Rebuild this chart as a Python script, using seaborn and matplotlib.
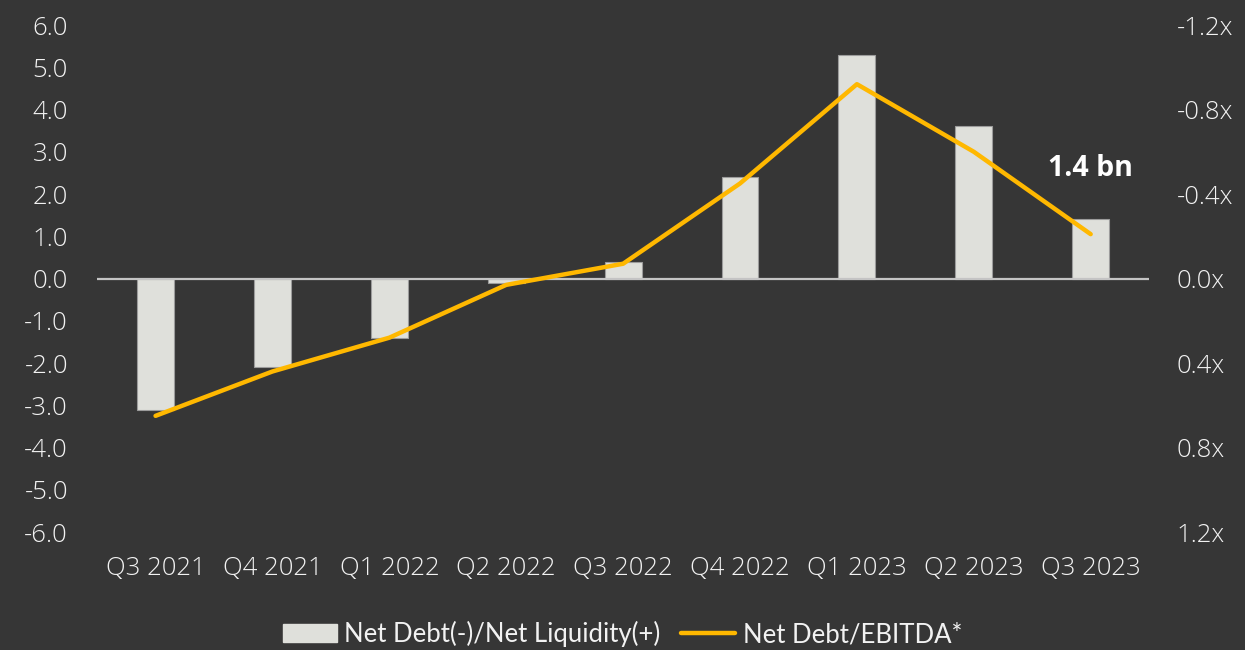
import numpy as np
import pandas as pd
import matplotlib
matplotlib.use("Agg")
import matplotlib.pyplot as plt
from matplotlib.patches import Patch
from matplotlib.lines import Line2D
import seaborn as sns

# Quarterly figures
quarters = ["Q3 2021", "Q4 2021", "Q1 2022", "Q2 2022", "Q3 2022",
            "Q4 2022", "Q1 2023", "Q2 2023", "Q3 2023"]
net_liquidity_bn = [-3.1, -2.1, -1.4, -0.1, 0.4, 2.4, 5.3, 3.6, 1.4]
net_debt_ebitda = [0.65, 0.44, 0.28, 0.03, -0.07, -0.45, -0.92, -0.60, -0.21]

left_ticks = [-6, -5, -4, -3, -2, -1, 0, 1, 2, 3, 4, 5, 6]
right_ticks = [-1.2, -0.8, -0.4, 0.0, 0.4, 0.8, 1.2]

BG = "#363636"
BAR = "#DFE0DB"
LINE = "#FFB800"
TXT = "#F2F2F2"

sns.set_theme(style="white")
plt.rcParams["font.family"] = ["Open Sans", "DejaVu Sans"]
plt.rcParams["font.weight"] = 300

df = pd.DataFrame({"quarter": quarters,
                   "liquidity": net_liquidity_bn,
                   "ratio": net_debt_ebitda})
df["pos"] = np.arange(len(df))

fig = plt.figure(figsize=(12.45, 6.5), dpi=100, facecolor=BG)
ax = fig.add_axes([0.078, 0.1815, 0.845, 0.78])
ax.set_facecolor(BG)

sns.barplot(data=df, x="quarter", y="liquidity", ax=ax, color=BAR,
            width=0.316, saturation=1, edgecolor="#9C9C9C", linewidth=0.8,
            zorder=2)
ax.axhline(0, color="#C4C4C4", linewidth=1.6, zorder=3)

ax.set_xlim(-0.5, 8.5)
ax.set_ylim(-6, 6)
ax.set_yticks(left_ticks)
ax.set_yticklabels([f"{v:.1f}" for v in left_ticks])
ax.set_xlabel("")
ax.set_ylabel("")
ax.tick_params(axis="both", length=0, colors=TXT, labelsize=18.5)
ax.tick_params(axis="y", pad=21)
ax.tick_params(axis="x", pad=17)
for s in ax.spines.values():
    s.set_visible(False)

ax2 = ax.twinx()
sns.lineplot(data=df, x="pos", y="ratio", ax=ax2, color=LINE,
             linewidth=3.2, zorder=4)
ax2.set_ylim(1.2, -1.2)
ax2.set_yticks(right_ticks)
ax2.set_yticklabels([f"{v:.1f}x" for v in right_ticks])
ax2.set_ylabel("")
ax2.set_xlabel("")
ax2.tick_params(axis="y", length=0, colors=TXT, labelsize=18.5, pad=20)
for s in ax2.spines.values():
    s.set_visible(False)
ax.set_xlim(-0.5, 8.5)

# Value callout for the latest quarter
last = net_liquidity_bn[-1]
ax.text(len(quarters) - 1, last + 1.2, f"{last:.1f} bn", ha="center",
        va="center", color="white", fontsize=20.5, fontweight="bold")

handles = [Patch(facecolor=BAR, edgecolor=BAR),
           Line2D([0], [0], color=LINE, linewidth=3.2)]
labels = ["Net Debt(-)/Net Liquidity(+)", "Net Debt/EBITDA*"]
leg = fig.legend(handles, labels, loc="center", bbox_to_anchor=(0.5, 0.024),
                 ncol=2, frameon=False, handlelength=2.1,
                 handletextpad=0.3, columnspacing=0.8, labelcolor=TXT,
                 prop={"family": ["Lato", "DejaVu Sans"], "weight": 400,
                       "size": 18.5})

fig.savefig("out.png", dpi=100, facecolor=BG)
